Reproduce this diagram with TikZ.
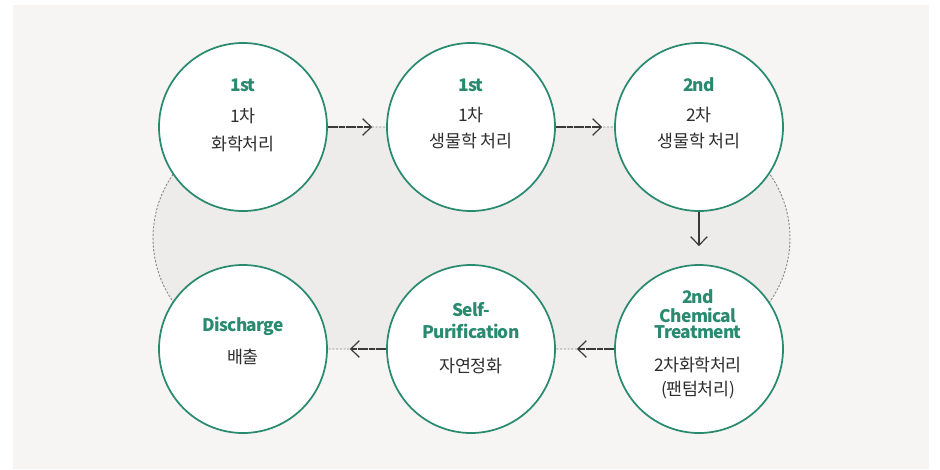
\documentclass[tikz,border=0pt]{standalone}
\usepackage{fontspec}
\setmainfont{Noto Sans CJK KR}
\usetikzlibrary{arrows.meta,calc}
\definecolor{panel}{HTML}{F6F5F3}
\definecolor{innerfill}{HTML}{EDECEA}
\definecolor{grn}{HTML}{2A8A70}
\definecolor{txt}{HTML}{2E2E2E}
\definecolor{arrc}{HTML}{3A3A3A}
\definecolor{dashc}{HTML}{8A8A8A}
\begin{document}
\begin{tikzpicture}[x=0.75pt,y=-0.75pt,
  circ/.style={circle,draw=grn,line width=1.3pt,fill=white,minimum size=126pt,inner sep=0pt},
  stadium/.style={draw=dashc,fill=innerfill,line width=0.7pt,dash pattern=on 1.6pt off 1.2pt,rounded corners=83.25pt},
  flowarrow/.style={draw=arrc,line width=0.9pt,dash pattern=on 2.4pt off 0.3pt,-{Straight Barb[length=6.5pt,width=12.5pt,line width=0.9pt]}},
  entxt/.style={text=grn,font=\fontsize{13pt}{15pt}\selectfont\bfseries\addfontfeature{LetterSpace=-4},inner sep=0pt},
  kotxt/.style={text=txt,font=\fontsize{13pt}{15pt}\selectfont\addfontfeature{LetterSpace=-2},inner sep=0pt}]
\useasboundingbox (0,0) rectangle (940,469);
\fill[panel] (13,5) rectangle (929,469);
\path[stadium] (153,127) rectangle (790,349);
% circles
\node[circ] (c1) at (243,127) {};
\node[circ] (c2) at (471,127) {};
\node[circ] (c3) at (699,127) {};
\node[circ] (c4) at (699,349) {};
\node[circ] (c5) at (471,349) {};
\node[circ] (c6) at (243,349) {};
% arrows
\coordinate (t12) at ($(c2.west)+(-14,0)$);
\coordinate (t23) at ($(c3.west)+(-12,0)$);
\coordinate (t34) at ($(c4.north)+(0,-18)$);
\coordinate (t45) at ($(c5.east)+(21,0)$);
\coordinate (t56) at ($(c6.east)+(22,0)$);
\draw[flowarrow] (c1.east) -- (t12);
\draw[flowarrow] (c2.east) -- (t23);
\draw[flowarrow,dash pattern=] (c3.south) -- (t34);
\draw[flowarrow] (c4.west) -- (t45);
\draw[flowarrow] (c5.west) -- (t56);
% texts
\node[entxt] (e1) at (243,85) {1st};
\node[kotxt] (k1a) at (243,116) {1차};
\node[kotxt] (k1b) at (243,144) {화학처리};
\node[entxt] (e2) at (471,85) {1st};
\node[kotxt] (k2a) at (471,115) {1차};
\node[kotxt] (k2b) at (471,141) {생물학 처리};
\node[entxt] (e3) at (699,85) {2nd};
\node[kotxt] (k3a) at (699,115) {2차};
\node[kotxt] (k3b) at (699,141) {생물학 처리};
\node[entxt] (e4a) at (698,297) {2nd};
\node[entxt] (e4b) at (698,315) {Chemical};
\node[entxt] (e4c) at (698,332) {Treatment};
\node[kotxt] (k4a) at (698,365) {2차화학처리};
\node[kotxt] (k4b) at (698,390) {(팬텀처리)};
\node[entxt] (e5a) at (471,310) {Self-};
\node[entxt] (e5b) at (471,331) {Purification};
\node[kotxt] (k5) at (471,366) {자연정화};
\node[entxt] (e6) at (243,326) {Discharge};
\node[kotxt] (k6) at (243,357) {배출};
\end{tikzpicture}
\end{document}
